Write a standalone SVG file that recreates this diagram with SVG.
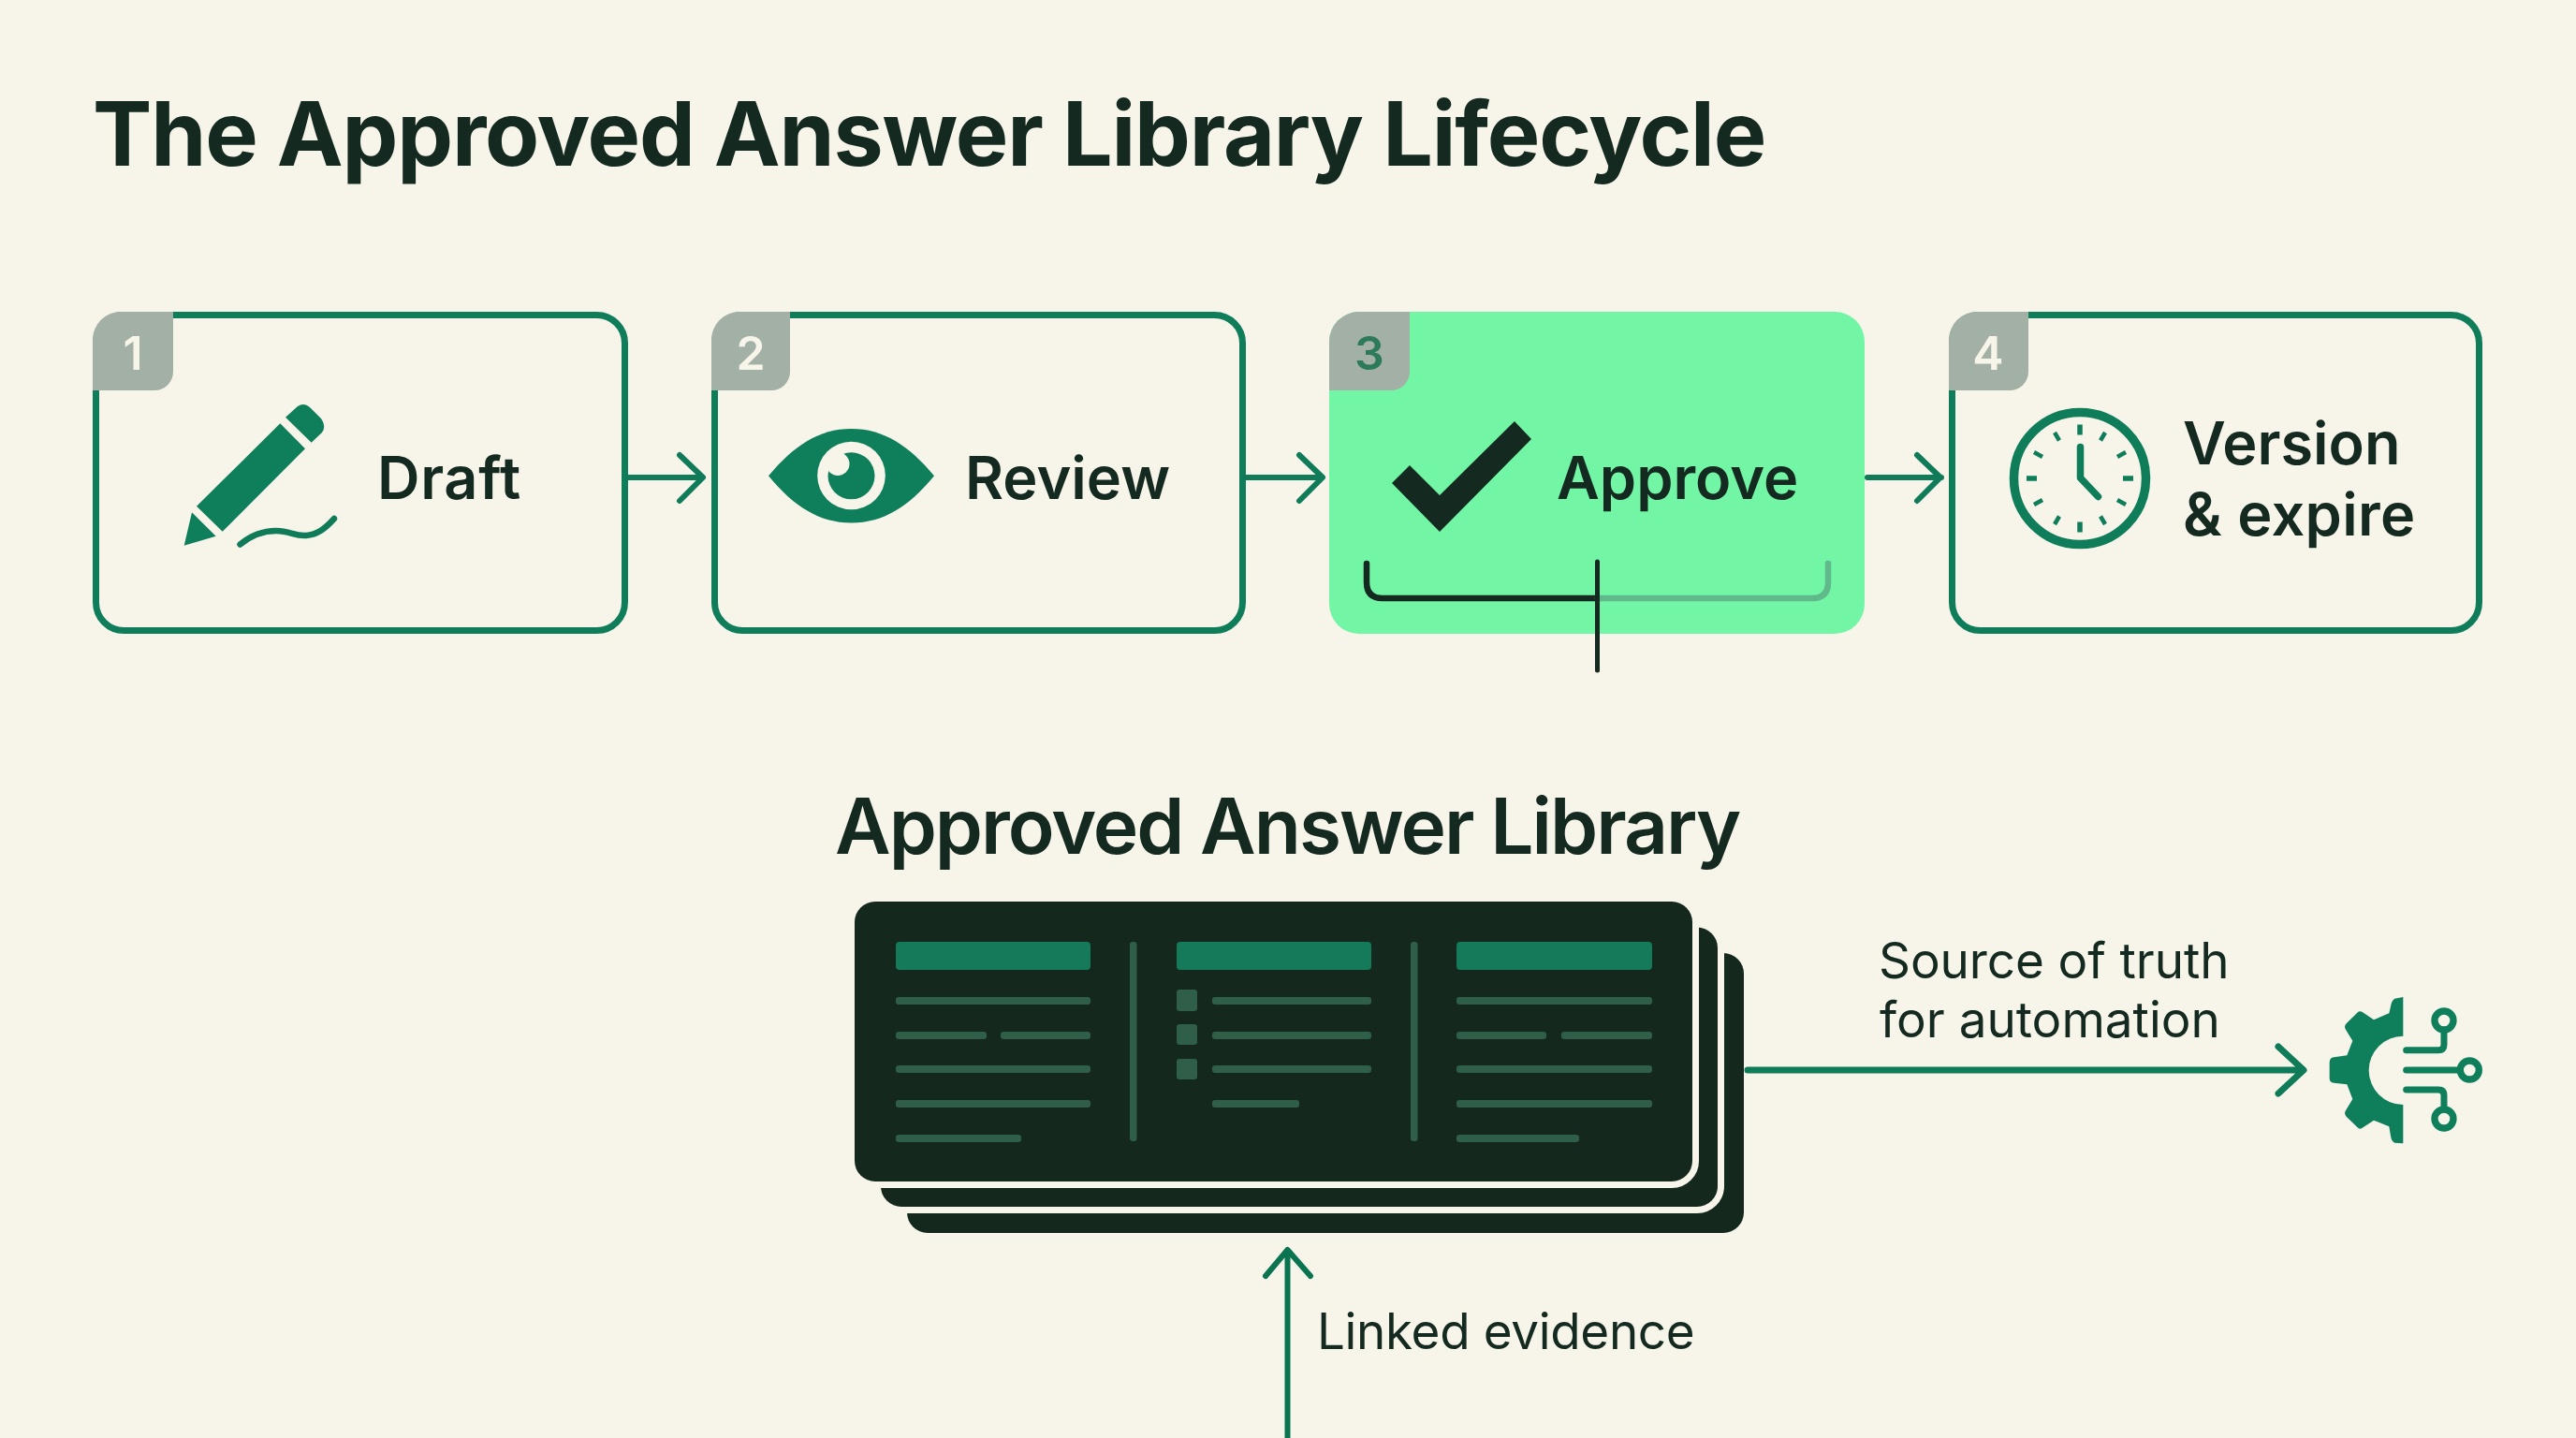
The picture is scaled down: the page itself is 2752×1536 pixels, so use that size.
<svg xmlns="http://www.w3.org/2000/svg" width="2752" height="1536" viewBox="0 0 2752 1536">
<style>
text{font-family:Inter,"Liberation Sans",sans-serif;fill:#14291f}
.title{font-size:95px;font-weight:700;letter-spacing:-1.2px}
.sub{font-size:82px;font-weight:600;letter-spacing:-2px}
.lbl{font-size:63px;font-weight:600}
.note{font-size:53px;font-weight:400;letter-spacing:-.35px}
.num{font-size:50px;font-weight:600;fill:#f7f5ea;text-anchor:middle}
.card{fill:#f7f5ea;stroke:#0f7d59;stroke-width:7}
.badge{fill:#a3b0a5}
.g{fill:#0f7f5b}
.ln{stroke:#0f7b58;fill:none;stroke-linecap:round;stroke-linejoin:round}
.sheet{fill:#15281e;stroke:#f7f5ea;stroke-width:14;paint-order:stroke}
.hd{fill:#157a59}
.r{fill:#2f5e49}
.tick{stroke:#0f7d59;fill:none}
</style>
<rect width="2752" height="1536" fill="#f7f5ea"/>
<text class="title" x="99" y="177">The Approved Answer Library Lifecycle</text>

<g id="step-1">
<rect class="card" x="102.500" y="336.500" width="565" height="337" rx="30"/>
<path class="badge" d="M99 417V363A30 30 0 0 1 129 333H185V397A20 20 0 0 1 165 417Z"/>
<text class="num" x="142" y="395">1</text>
<path class="g" d="M299.300 452.300L326 479.300L237.700 567.700L210 540.700ZM205 547.300L230.700 572.700L196.700 582.700ZM305 445.700L318 434Q325 429 332 436L343 447Q349 455 344 462L332.700 472.700Z"/>
<path class="ln" stroke-width="6.500" d="M256.500 581.500C268 572 280 567 295 567S315 573 327 572S347 565 357 554"/>
<text class="lbl" x="403" y="533" style="letter-spacing:.7px">Draft</text>
</g>

<g id="step-2">
<rect class="card" x="763.500" y="336.500" width="564" height="337" rx="30"/>
<path class="badge" d="M760 417V363A30 30 0 0 1 790 333H844V397A20 20 0 0 1 824 417Z"/>
<text class="num" x="802" y="395">2</text>
<path class="g" d="M821 508.300C848 476 875 458 909.500 458S971 476 998 508.300C971 541 944 558.500 909.500 558.500S848 541 821 508.300Z"/>
<circle cx="909.500" cy="508" r="36.300" fill="#f7f5ea"/>
<circle cx="909.500" cy="508.300" r="25" fill="#0f7f5b"/>
<circle cx="895" cy="495.500" r="12.500" fill="#f7f5ea"/>
<text class="lbl" x="1031" y="533">Review</text>
</g>

<g id="step-3">
<rect x="1420" y="333" width="572" height="344" rx="32" fill="#72f5a5"/>
<path class="badge" d="M1420 417V365A32 32 0 0 1 1452 333H1506V397A20 20 0 0 1 1486 417Z"/>
<text class="num" x="1463" y="395" style="fill:#2d7a5b">3</text>
<path fill="#14291f" d="M1618 450L1636 469L1538 568L1487 516L1506 497L1538 529Z"/>
<text class="lbl" x="1663" y="533">Approve</text>
<path d="M1707 639H1477Q1460 639 1460 622V602" fill="none" stroke="#14291f" stroke-width="6.500" stroke-linecap="round"/>
<path d="M1707 639H1936Q1953 639 1953 622V602" fill="none" stroke="#5fb98a" stroke-width="6.500" stroke-linecap="round"/>
<path d="M1706.500 600V716" fill="none" stroke="#14291f" stroke-width="5" stroke-linecap="round"/>
</g>

<g id="step-4">
<rect class="card" x="2085.500" y="336.500" width="563" height="337" rx="30"/>
<path class="badge" d="M2082 417V363A30 30 0 0 1 2112 333H2167V397A20 20 0 0 1 2147 417Z"/>
<text class="num" x="2124" y="395">4</text>
<circle cx="2222" cy="511" r="70.500" fill="none" stroke="#0f7d59" stroke-width="9.500"/>
<path class="tick" stroke-width="5.500" d="M2222 453.500V464.500M2222 557.500V568.500M2165 511H2176M2268 511H2279"/>
<path class="tick" stroke-width="4.500" d="M2195 462L2200 470.500M2249 462L2244 470.500M2195 560L2200 551.500M2249 560L2244 551.500M2173 483L2182 488M2271 483L2262 488M2173 539L2182 534M2271 539L2262 534"/>
<path d="M2222.500 477.500V510.500L2241.500 530.500" fill="none" stroke="#0f7d59" stroke-width="7.500" stroke-linecap="round" stroke-linejoin="round"/>
<text class="lbl" x="2332" y="496">Version</text>
<text class="lbl" x="2332" y="572" style="letter-spacing:.3px">&amp; expire</text>
</g>

<g id="library">
<text class="sub" x="892" y="912">Approved Answer Library</text>
<rect class="sheet" x="969" y="1018" width="894" height="299" rx="22" style="stroke:none"/>
<rect class="sheet" x="941" y="990.500" width="894" height="298.500" rx="22"/>
<rect class="sheet" x="913" y="963" width="895" height="299" rx="22"/>
<g class="hd">
<rect x="957" y="1006" width="208" height="30" rx="4"/>
<rect x="1257" y="1006" width="208" height="30" rx="4"/>
<rect x="1556" y="1006" width="209" height="30" rx="4"/>
</g>
<g class="r">
<rect x="1207" y="1006" width="7.500" height="213" rx="3"/>
<rect x="1507" y="1006" width="7.500" height="213" rx="3"/>
<rect x="957" y="1065" width="208" height="8" rx="3"/>
<rect x="957" y="1102" width="97" height="8" rx="3"/>
<rect x="1069" y="1102" width="96" height="8" rx="3"/>
<rect x="957" y="1138" width="208" height="8" rx="3"/>
<rect x="957" y="1175" width="208" height="8" rx="3"/>
<rect x="957" y="1212" width="134" height="8" rx="3"/>
<rect x="1257" y="1057" width="22" height="23" rx="3"/>
<rect x="1257" y="1094" width="22" height="22" rx="3"/>
<rect x="1257" y="1131" width="22" height="22" rx="3"/>
<rect x="1295" y="1065" width="170" height="8" rx="3"/>
<rect x="1295" y="1102" width="170" height="8" rx="3"/>
<rect x="1295" y="1138" width="170" height="8" rx="3"/>
<rect x="1295" y="1175" width="93" height="8" rx="3"/>
<rect x="1556" y="1065" width="209" height="8" rx="3"/>
<rect x="1556" y="1102" width="96" height="8" rx="3"/>
<rect x="1668" y="1102" width="97" height="8" rx="3"/>
<rect x="1556" y="1138" width="209" height="8" rx="3"/>
<rect x="1556" y="1175" width="209" height="8" rx="3"/>
<rect x="1556" y="1212" width="131" height="8" rx="3"/>
</g>
</g>

<g id="automation-note">
<text class="note" x="2007" y="1045" style="letter-spacing:-.1px">Source of truth</text>
<text class="note" x="2008" y="1108" style="letter-spacing:0">for automation</text>
</g>

<g id="automation-icon" transform="translate(2460 1050) scale(.3333)">
<path class="g" d="M322 45L295 50Q285 55 282 75L277 97L228 118L190 92Q182 88 175 95L140 130Q132 138 137 148L160 185L142 232L100 238Q86 240 86 255V305Q86 318 100 320L142 325L160 372L137 410Q132 420 140 428L175 462Q182 470 190 465L228 440L277 460L282 490Q285 510 295 512L322 514V390A110 110 0 0 1 322 170Z"/>
<path class="ln" stroke-width="21" style="stroke:#0f7f5b" d="M332 215H435Q453 215 453 197V150M332 279H505M332 342H435Q453 342 453 360V405"/>
<g fill="none" stroke="#0f7f5b" stroke-width="22">
<circle cx="453" cy="120" r="30"/>
<circle cx="535" cy="279" r="30"/>
<circle cx="453" cy="435" r="30"/>
</g>
</g>

<g id="evidence-note">
<text class="note" x="1407" y="1441">Linked evidence</text>
</g>

<g id="connectors">
<path class="ln" stroke-width="6" d="M671 510H750M726 486L751 510L726 535"/>
<path class="ln" stroke-width="6" d="M1331 510H1412M1388 486L1413 510L1388 535"/>
<path class="ln" stroke-width="6" d="M1995 510H2074M2048 486L2073 510L2048 535"/>
<path class="ln" stroke-width="7" d="M1867 1143H2460M2434 1118L2461 1143L2434 1168"/>
<path class="ln" stroke-width="6" style="stroke:#0a7350" d="M1375.500 1536V1336M1352 1363L1375.500 1335L1400 1363"/>
</g>
</svg>
